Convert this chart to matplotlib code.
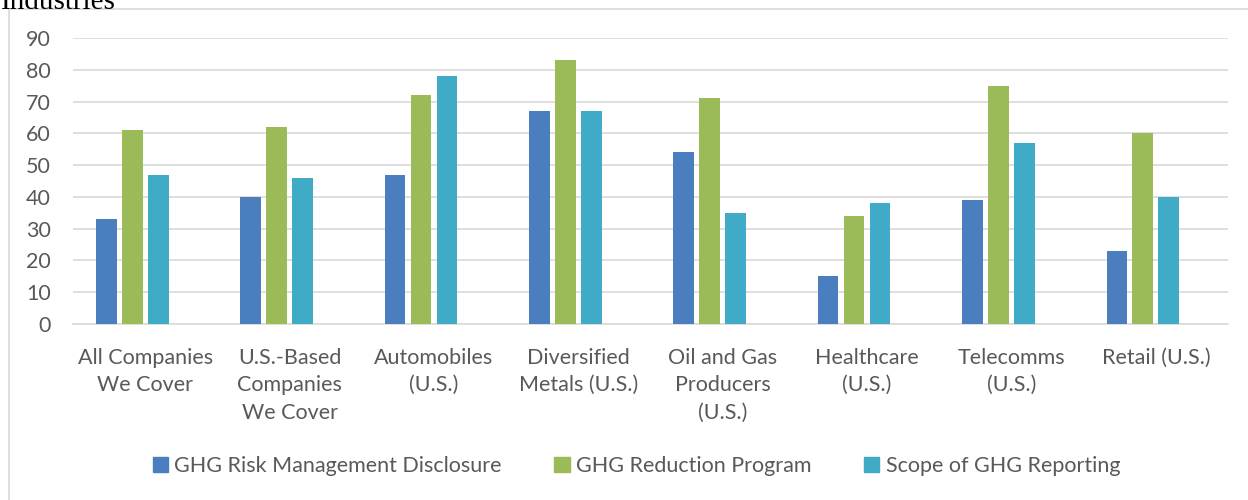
import numpy as np
import matplotlib.pyplot as plt
from matplotlib.patches import Rectangle

categories = ['All Companies\nWe Cover', 'U.S.-Based\nCompanies\nWe Cover', 'Automobiles\n(U.S.)',
              'Diversified\nMetals (U.S.)', 'Oil and Gas\nProducers\n(U.S.)', 'Healthcare\n(U.S.)',
              'Telecomms\n(U.S.)', 'Retail (U.S.)']
risk_mgmt = [33, 40, 47, 67, 54, 15, 39, 23]
reduction = [61, 62, 72, 83, 71, 34, 75, 60]
scope = [47, 46, 78, 67, 35, 38, 57, 40]
series_names = ['GHG Risk Management Disclosure', 'GHG Reduction Program', 'Scope of GHG Reporting']
colors = ['#4A7EBF', '#9BBB59', '#40ABC7']
yticks = [0, 10, 20, 30, 40, 50, 60, 70, 80, 90]

plt.rcParams['font.family'] = ['Lato', 'DejaVu Sans']
W, H = 1248, 500
fig = plt.figure(figsize=(W / 100, H / 100), dpi=100)
ax = fig.add_axes([73 / W, 1 - 324 / H, (1228 - 73) / W, (324 - 38) / H])

x = np.arange(len(categories))
bw = 0.143
step = 0.18
# bars sit left of the slot centre, as if a fourth (empty) series followed
for i, vals in enumerate([risk_mgmt, reduction, scope]):
    ax.bar(x + (i - 1.5) * step, vals, width=bw, color=colors[i], label=series_names[i], zorder=3)

ax.set_xlim(-0.5, len(categories) - 0.5)
ax.set_ylim(0, 90)
ax.set_yticks(yticks)
ax.grid(axis='y', color='#D9D9D9', linewidth=1.2, zorder=0)
for s in ['top', 'right', 'left']:
    ax.spines[s].set_visible(False)
ax.spines['bottom'].set_color('#D9D9D9')
ax.spines['bottom'].set_linewidth(1.2)
ax.tick_params(axis='both', length=0, colors='#595959', labelsize=15.5)
ax.tick_params(axis='y', pad=16)
ax.tick_params(axis='x', pad=17)
ax.set_xticks(x)
ax.set_xticklabels(categories, linespacing=1.48)

handles = [Rectangle((0, 0), 1, 1, color=c) for c in colors]
fig.legend(handles, series_names, loc='center', bbox_to_anchor=(0.51, 1 - 466 / H), ncol=3,
           frameon=False, fontsize=15.5, labelcolor='#595959', handlelength=0.7, handleheight=0.7,
           handletextpad=0.3, columnspacing=2.45)

fig.patches.append(Rectangle((9 / W, -0.1), 1.2, 1 - 9 / H + 0.1, transform=fig.transFigure,
                             fill=False, edgecolor='#D9D9D9', linewidth=1.2))
fig.text(1 / W, 1 - 9 / H, 'Industries', family='Liberation Serif', fontsize=21, va='baseline', color='black')

fig.savefig('out.png', dpi=100)
